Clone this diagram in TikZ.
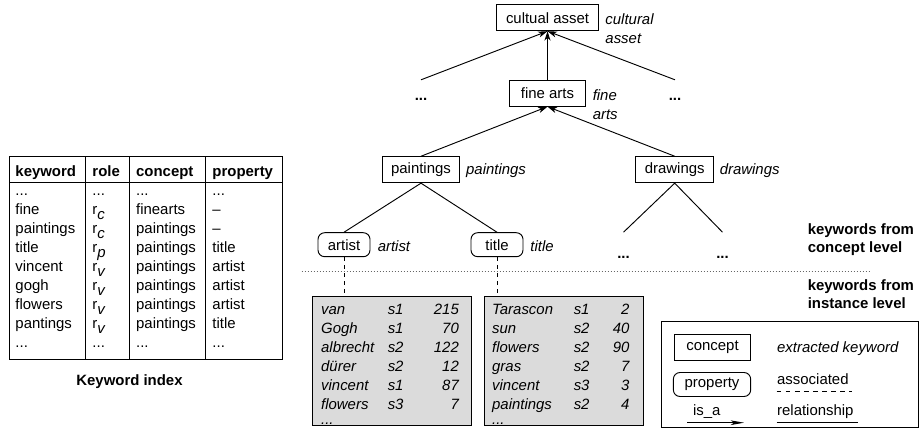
\documentclass[tikz,border=0pt]{standalone}
\usepackage{fontspec}
\setmainfont{Liberation Sans}
\usetikzlibrary{arrows.meta}
\newcommand{\rrole}[1]{r\raisebox{-0.55ex}{\itshape #1}}

\begin{document}
\begin{tikzpicture}[x=0.75pt, y=-0.75pt, line width=0.7pt,
  font=\fontsize{11.2}{14.25}\selectfont,
  concept/.style={draw, minimum width=57pt, minimum height=19.5pt, inner xsep=6.8pt, inner ysep=0pt},
  prop/.style={draw, rounded corners=5pt, minimum width=39pt, minimum height=18pt, inner xsep=6pt, inner ysep=0pt},
  kw/.style={anchor=base west, inner sep=0pt, align=left, font=\fontsize{11.2}{14.25}\selectfont\itshape},
  more/.style={anchor=base, inner sep=0pt, font=\fontsize{11.2}{14.25}\selectfont\bfseries},
  col/.style={anchor=base west, inner sep=0pt, align=left},
  head/.style={anchor=base west, inner sep=0pt, font=\fontsize{11.2}{14.25}\selectfont\bfseries},
  inst/.style={draw, fill=black!14, minimum width=119.25pt, minimum height=96.75pt, inner sep=0pt},
  icol/.style={anchor=base west, inner sep=0pt, align=left, font=\fontsize{11.2}{14.25}\selectfont\itshape},
  inum/.style={anchor=base east, inner sep=0pt, align=right, font=\fontsize{11.2}{14.25}\selectfont\itshape},
  level/.style={anchor=base west, inner sep=0pt, align=left, font=\fontsize{11.2}{13.5}\selectfont\bfseries},
  isa/.style={-{Stealth[length=7pt, width=4.5pt, inset=2pt]}},
  assoc/.style={dash pattern=on 3pt off 3pt}]
\useasboundingbox (0,0) rectangle (919,437);

% keyword index (multi-line nodes sit on their last line)
\draw (9,156.7) rectangle (282,359.3);
\draw (9,182.3) -- (282,182.3);
\draw (85.7,156.7) -- (85.7,359.3);
\draw (129.3,156.7) -- (129.3,359.3);
\draw (205.7,156.7) -- (205.7,359.3);
\node[head] (indexNkeyword) at (15,176) {keyword};
\node[head] (indexNrole) at (92,176) {role};
\node[head] (indexNconcept) at (135.7,176) {concept};
\node[head] (indexNproperty) at (212,176) {property};
\node[col] (indexNkeywords) at (15,347.7) {...\\fine\\paintings\\title\\vincent\\gogh\\flowers\\pantings\\...};
\node[col] (indexNroles) at (92,347.7) {...\\\rrole{c}\\\rrole{c}\\\rrole{p}\\\rrole{v}\\\rrole{v}\\\rrole{v}\\\rrole{v}\\...};
\node[col] (indexNconcepts) at (135.7,347.7) {...\\finearts\\paintings\\paintings\\paintings\\paintings\\paintings\\paintings\\...};
\node[col] (indexNproperties) at (212,347.7) {...\\--\\--\\title\\artist\\artist\\artist\\title\\...};
\node[head, anchor=base] (indexNcaption) at (129.5,385) {Keyword index};

% concept tree
\node[concept] (treeNasset) at (547.5,17.7) {cultual asset};
\node[kw] (treeNassetKw) at (605,43.3) {cultural\\asset};
\node[concept] (treeNfinearts) at (547.5,93.2) {fine arts};
\node[kw] (treeNfineartsKw) at (592.3,119) {fine\\arts};
\node[more, text height=14.8pt] (treeNmoreL) at (421,100) {...};
\node[more, text height=14.8pt] (treeNmoreR) at (675,100) {...};
\node[concept] (treeNpaintings) at (421,169.7) {paintings};
\node[kw] (treeNpaintingsKw) at (465.7,174.3) {paintings};
\node[concept] (treeNdrawings) at (674.7,169.7) {drawings};
\node[kw] (treeNdrawingsKw) at (719.3,174.3) {drawings};
\node[prop] (treeNartist) at (344,244.7) {artist};
\node[kw] (treeNartistKw) at (377.3,251.5) {artist};
\node[prop] (treeNtitle) at (497,244.7) {title};
\node[kw] (treeNtitleKw) at (530,251.5) {title};
\node[more, text height=19pt] (treeNmoreC) at (623.5,258) {...};
\node[more, text height=19pt] (treeNmoreD) at (722.5,258) {...};
\draw[isa] (treeNmoreL.north) -- (treeNasset.south);
\draw[isa] (treeNfinearts.north) -- (treeNasset.south);
\draw[isa] (treeNmoreR.north) -- (treeNasset.south);
\draw[isa] (treeNpaintings.north) -- (treeNfinearts.south);
\draw[isa] (treeNdrawings.north) -- (treeNfinearts.south);
\draw (treeNpaintings.south) -- (treeNartist.north);
\draw (treeNpaintings.south) -- (treeNtitle.north);
\draw (treeNdrawings.south) -- (treeNmoreC.north);
\draw (treeNdrawings.south) -- (treeNmoreD.north);

% levels
\draw[black!60, line width=0.6pt, dash pattern=on 0.75pt off 1.5pt] (301.7,271) -- (870,271);
\node[level] (levelNconcept) at (807.3,252) {keywords from\\concept level};
\node[level] (levelNinstance) at (807.3,308.5) {keywords from\\instance level};

% instance keywords
\node[inst] (instNartist) at (392.2,361.2) {};
\node[inst] (instNtitle) at (563.8,361.2) {};
\draw[assoc] (treeNartist.south) -- (treeNartist.south |- instNartist.north);
\draw[assoc] (treeNtitle.south) -- (treeNtitle.south |- instNtitle.north);
\node[icol] (instNartistWords) at (320.7,409.5) {van\\Gogh\\albrecht\\dürer\\vincent\\flowers};
\node[icol] (instNartistSrc) at (387.3,409.5) {s1\\s1\\s2\\s2\\s1\\s3};
\node[inum] (instNartistNum) at (459.3,409.5) {215\\70\\122\\12\\87\\7};
\node[icol] (instNartistMore) at (320.7,424.5) {...};
\node[icol] (instNtitleWords) at (491.7,409.5) {Tarascon\\sun\\flowers\\gras\\vincent\\paintings};
\node[icol] (instNtitleSrc) at (573.3,409.5) {s1\\s2\\s2\\s2\\s3\\s2};
\node[inum] (instNtitleNum) at (630,409.5) {2\\40\\90\\7\\3\\4};
\node[icol] (instNtitleMore) at (491.7,424.5) {...};

% legend
\draw (661.7,321.7) rectangle (918.3,427.3);
\node[concept] (legendNconcept) at (712.5,347.2) {concept};
\node[kw] (legendNkeyword) at (776.7,352.8) {extracted keyword};
\node[prop, minimum width=58pt] (legendNproperty) at (712,384.5) {property};
\node[col] (legendNassoc) at (776.7,384) {associated};
\node[anchor=base, inner sep=0pt] (legendNisa) at (706.7,415) {is\_a};
\node[col] (legendNrel) at (776.7,415.5) {relationship};
\coordinate (legendNisaFrom) at (687.3,422.7);
\coordinate (legendNisaTo) at (744,422.7);
\draw[-{Stealth[length=10pt, width=3.5pt, inset=2.5pt]}] (legendNisaFrom) -- (legendNisaTo);
\draw[dash pattern=on 3.5pt off 3.3pt] (776.7,391) -- (851.7,391);
\draw (776.7,422.7) -- (858.3,422.7);
\end{tikzpicture}
\end{document}
